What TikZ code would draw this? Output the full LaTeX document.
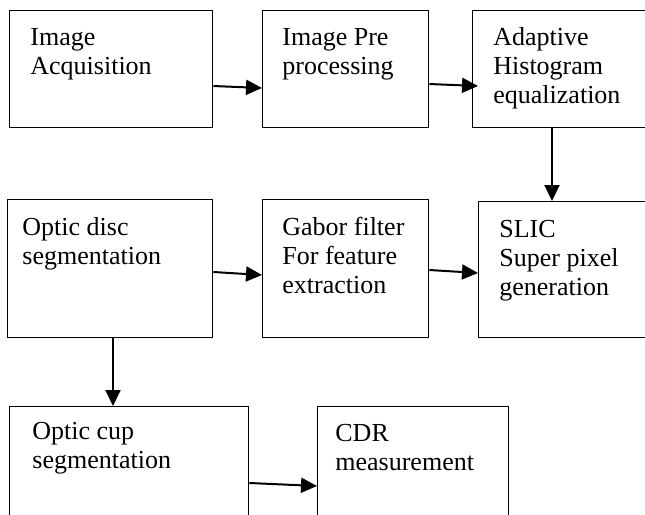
\documentclass[tikz,border=0pt]{standalone}
\usepackage{fontspec}
\setmainfont{Liberation Serif}
\usetikzlibrary{arrows.meta,calc}
\tikzset{
  stagebox/.style={draw, line width=0.65pt, anchor=north west, inner sep=0pt},
  stagetxt/.style={anchor=north west, align=left, inner sep=0pt,
                   font=\fontsize{13}{14.5}\selectfont},
  flowarr/.style ={-{Triangle[length=8pt,width=7.5pt]}, line width=1pt},
}
\begin{document}
\begin{tikzpicture}[x=0.5pt,y=-0.5pt]
  \useasboundingbox (0,0) rectangle (645,515);
  \clip (0,0) rectangle (645,515);
  %% row 1
  \node[stagebox, minimum width=101.5pt, minimum height=58.5pt] (acq)   at (9,10)   {};
  \node[stagebox, minimum width=83pt,    minimum height=58.5pt] (prep)  at (262,10) {};
  \node[stagebox, minimum width=100pt,   minimum height=58.5pt] (ahe)   at (472,10) {};
  %% row 2
  \node[stagebox, minimum width=102.5pt, minimum height=69pt]   (odisc) at (7,199)   {};
  \node[stagebox, minimum width=83pt,    minimum height=69pt]   (gabor) at (262,199) {};
  \node[stagebox, minimum width=100pt,   minimum height=68pt]   (slic)  at (478,201) {};
  %% row 3
  \node[stagebox, minimum width=119.5pt, minimum height=75pt]   (ocup)  at (9,406)   {};
  \node[stagebox, minimum width=95.5pt,  minimum height=75pt]   (cdr)   at (317,406) {};
  %% texts
  \node[stagetxt] (acq-t)   at ([shift={(10.5pt,-9pt)}]acq.north west)   {Image\\Acquisition};
  \node[stagetxt] (prep-t)  at ([shift={(10pt,-9pt)}]prep.north west)    {Image Pre\\processing};
  \node[stagetxt] (ahe-t)   at ([shift={(10.5pt,-8.5pt)}]ahe.north west) {Adaptive\\Histogram\\equalization};
  \node[stagetxt] (odisc-t) at ([shift={(7.5pt,-9pt)}]odisc.north west)  {Optic disc\\segmentation};
  \node[stagetxt] (gabor-t) at ([shift={(10pt,-9pt)}]gabor.north west)   {Gabor filter\\For feature\\extraction};
  \node[stagetxt] (slic-t)  at ([shift={(10.5pt,-9.5pt)}]slic.north west) {SLIC\\Super pixel\\generation};
  \node[stagetxt] (ocup-t)  at ([shift={(11.5pt,-8pt)}]ocup.north west)  {Optic cup\\segmentation};
  \node[stagetxt] (cdr-t)   at ([shift={(9pt,-9pt)}]cdr.north west)      {CDR\\measurement};
  %% connectors
  \coordinate (ahedrop)   at (552,0);
  \coordinate (odiscdrop) at (113,0);
  \draw[flowarr] ([yshift=-38pt]acq.north east) -- ([yshift=-39pt]prep.north west);
  \draw[flowarr] ([yshift=-37pt]prep.north east) -- ([shift={(3pt,-38pt)}]ahe.north west);
  \draw[flowarr] (ahe.south -| ahedrop) -- (slic.north -| ahedrop);
  \draw[flowarr] ([yshift=-36.5pt]odisc.north east) -- ([yshift=-38pt]gabor.north west);
  \draw[flowarr] ([yshift=-35.5pt]gabor.north east) -- ([yshift=-36pt]slic.north west);
  \draw[flowarr] (odisc.south -| odiscdrop) -- (ocup.north -| odiscdrop);
  \draw[flowarr] ([yshift=-38.5pt]ocup.north east) -- ([yshift=-40pt]cdr.north west);
\end{tikzpicture}
\end{document}
